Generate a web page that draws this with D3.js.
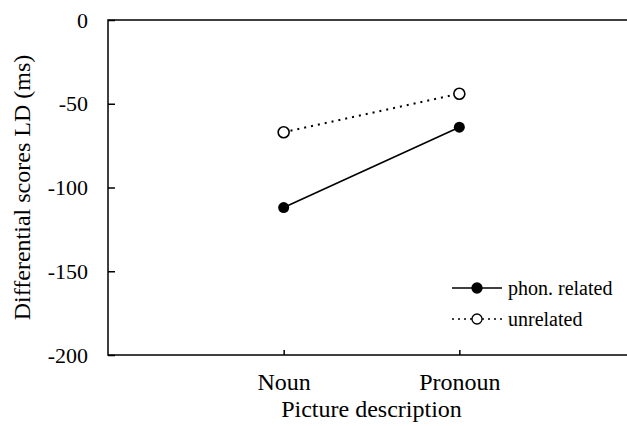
<!DOCTYPE html>
<html>
<head>
<meta charset="utf-8">
<script src="https://cdn.jsdelivr.net/npm/d3@7"></script>
<style>
  body { margin: 0; background: #fff; }
  text { font-family: "Liberation Serif", "Times New Roman", serif; fill: #000; }
</style>
</head>
<body>
<div id="chart"></div>
<script>
// categories and series (ms)
var categories = ["Noun", "Pronoun"];
var phonRelated = [-112, -64];
var unrelated = [-67, -44];
var yTicks = [0, -50, -100, -150, -200];

var width = 627,
  height = 426,
  margin = {top: 20, right: -8, bottom: 71, left: 108};

var svg = d3.select("#chart").append("svg")
  .attr("width", width)
  .attr("height", height);

var x = d3.scalePoint()
  .domain(categories)
  .range([margin.left, width - margin.right])
  .padding(1);

var y = d3.scaleLinear()
  .domain([-200, 0])
  .range([height - margin.bottom, margin.top]);

// frame (right side falls just off the page)
svg.append("rect")
  .attr("x", margin.left)
  .attr("y", margin.top)
  .attr("width", width - margin.right - margin.left)
  .attr("height", y(-200) - y(0))
  .attr("fill", "none")
  .attr("stroke", "#000")
  .attr("stroke-width", 1.5);

//Y axis, ticks point inward, plain hyphen for minus
var yAxis = svg.append("g")
  .attr("transform", "translate(" + margin.left + ",0)")
  .call(d3.axisLeft(y).tickValues(yTicks).tickSize(-7).tickPadding(20)
    .tickFormat(function(d) { return String(d); }));
yAxis.select(".domain").remove();
yAxis.selectAll("line").attr("stroke-width", 1.5);
yAxis.selectAll("text")
  .attr("font-size", 22)
  .style("font-family", "Liberation Serif, serif");

//X axis, ticks point up
var xAxis = svg.append("g")
  .attr("transform", "translate(0," + y(-200) + ")")
  .call(d3.axisBottom(x).tickSize(-5).tickPadding(18));
xAxis.select(".domain").remove();
xAxis.selectAll("line").attr("stroke-width", 1.5);
xAxis.selectAll("text")
  .attr("font-size", 24)
  .style("font-family", "Liberation Serif, serif");

//Axis titles
svg.append("text")
  .attr("x", (margin.left + width - margin.right) / 2)
  .attr("y", 417)
  .attr("text-anchor", "middle")
  .attr("font-size", 24)
  .text("Picture description");

svg.append("text")
  .attr("transform", "translate(30," + ((y(0) + y(-200)) / 2) + ") rotate(-90)")
  .attr("text-anchor", "middle")
  .attr("font-size", 24)
  .text("Differential scores LD (ms)");

var line = d3.line()
  .x(function(d, i) { return x(categories[i]); })
  .y(function(d) { return y(d); });

// unrelated: dotted line, open circles
svg.append("path")
  .datum(unrelated)
  .attr("d", line)
  .attr("fill", "none")
  .attr("stroke", "#000")
  .attr("stroke-width", 2)
  .attr("stroke-dasharray", "2,5");

svg.selectAll(".open")
  .data(unrelated)
  .enter().append("circle")
  .attr("class", "open")
  .attr("cx", function(d, i) { return x(categories[i]); })
  .attr("cy", function(d) { return y(d); })
  .attr("r", 5.5)
  .attr("fill", "#fff")
  .attr("stroke", "#000")
  .attr("stroke-width", 1.6);

// phon. related: solid line, filled circles
svg.append("path")
  .datum(phonRelated)
  .attr("d", line)
  .attr("fill", "none")
  .attr("stroke", "#000")
  .attr("stroke-width", 1.6);

svg.selectAll(".filled")
  .data(phonRelated)
  .enter().append("circle")
  .attr("class", "filled")
  .attr("cx", function(d, i) { return x(categories[i]); })
  .attr("cy", function(d) { return y(d); })
  .attr("r", 5.5)
  .attr("fill", "#000");

//Legend
var legendItems = [
  {label: "phon. related", dash: null, fill: "#000"},
  {label: "unrelated", dash: "2,4", fill: "#fff"}
];

var legend = svg.selectAll(".legend")
  .data(legendItems)
  .enter().append("g")
  .attr("class", "legend")
  .attr("transform", function(d, i) { return "translate(452," + (288 + i * 31) + ")"; });

legend.append("line")
  .attr("x1", 0).attr("x2", 50)
  .attr("stroke", "#000")
  .attr("stroke-width", 1.5)
  .attr("stroke-dasharray", function(d) { return d.dash; });

legend.append("circle")
  .attr("cx", 25)
  .attr("r", 5)
  .attr("fill", function(d) { return d.fill; })
  .attr("stroke", "#000")
  .attr("stroke-width", 1.3);

legend.append("text")
  .attr("x", 56)
  .attr("y", 7)
  .attr("font-size", 20)
  .text(function(d) { return d.label; });
</script>
</body>
</html>
